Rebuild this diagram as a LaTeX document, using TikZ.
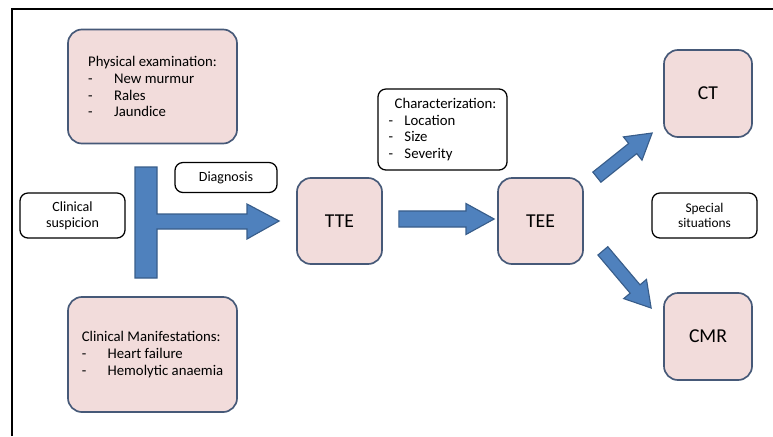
\documentclass[tikz,border=0pt]{standalone}
\usepackage{fontspec}
\setmainfont{Carlito}
\usetikzlibrary{calc}
\definecolor{boxpink}{RGB}{242,220,219}
\definecolor{boxedge}{RGB}{70,89,120}
\definecolor{arrowblue}{RGB}{79,129,189}
\definecolor{arrowedge}{RGB}{56,93,138}
\newcommand\itm[1][18.4pt]{\makebox[#1][l]{-}}
% block arrow: tail, tip, shaft half width, head half width, head length
\newcommand\fatarrow[5]{%
  \coordinate (hb) at ($(#2)!#5!(#1)$);
  \draw[arrowshape] ($(#1)!#3!90:(#2)$) -- ($(hb)!#3!-90:(#1)$) -- ($(hb)!#4!-90:(#1)$) -- (#2)
    -- ($(hb)!#4!90:(#1)$) -- ($(hb)!#3!90:(#1)$) -- ($(#1)!#3!-90:(#2)$) -- cycle;}
\begin{document}
\begin{tikzpicture}[x=0.025cm,y=-0.025cm,
  pinkbox/.style={draw=boxedge,fill=boxpink,line width=1.2pt,rounded corners=0.35cm,inner sep=0pt},
  whitebox/.style={draw=black,fill=white,line width=0.9pt,rounded corners=0.2cm,inner sep=0pt,align=center},
  arrowshape/.style={fill=arrowblue,draw=arrowedge,line width=0.8pt,line join=miter}]
\useasboundingbox (0,0) rectangle (773,436);
\draw[line width=1.4pt] (12,436)--(12,9)--(773,9);
% left column
\node[pinkbox,minimum width=4.225cm,minimum height=2.85cm,align=left,font=\fontsize{10.5}{12}\selectfont] (phys) at (152.5,86.5)
  {Physical examination:\\\itm New murmur\\\itm Rales\\\itm Jaundice};
\node[pinkbox,minimum width=4.225cm,minimum height=2.875cm,align=left,font=\fontsize{10.5}{12}\selectfont] (manif) at (152.5,354.5)
  {Clinical Manifestations:\\\itm Heart failure\\\itm Hemolytic anaemia};
\node[whitebox,minimum width=2.625cm,minimum height=1.125cm,font=\fontsize{10}{11.5}\selectfont] (susp) at (72.5,215.5) {Clinical\\suspicion};
\node[whitebox,minimum width=2.55cm,minimum height=0.75cm,font=\fontsize{10}{12}\selectfont] (diag) at (226,177.5) {Diagnosis};
% imaging
\node[pinkbox,minimum width=2.125cm,minimum height=2.15cm,font=\fontsize{14}{16}\selectfont] (tte) at (339.5,221) {TTE};
\node[pinkbox,minimum width=2.125cm,minimum height=2.15cm,font=\fontsize{14}{16}\selectfont] (tee) at (540.5,221) {TEE};
\node[whitebox,minimum width=3.225cm,minimum height=2.025cm,align=left,font=\fontsize{10.5}{12}\selectfont] (charact) at (442.5,129.5)
  {\hspace*{4.3pt}Characterization:\\\itm[11.3pt]Location\\\itm[11.3pt]Size\\\itm[11.3pt]Severity};
\node[pinkbox,minimum width=2.2cm,minimum height=2.175cm,font=\fontsize{14}{16}\selectfont] (ct) at (708,93.5) {CT};
\node[pinkbox,minimum width=2.2cm,minimum height=2.175cm,font=\fontsize{14}{16}\selectfont] (cmr) at (708,336.5) {CMR};
\node[whitebox,minimum width=2.625cm,minimum height=1.125cm,font=\fontsize{9.5}{11.2}\selectfont] (spec) at (704.5,215.5) {Special\\situations};
% arrows
\coordinate (ttip) at ($(tte.west)+(-17,0)$);
\draw[arrowshape] (135,167)--(157,167)--(157,214)--(247,214)--(247,204)--(ttip)--(247,239)--(247,229)--(157,229)--(157,278)--(135,278)--cycle;
\coordinate (a1) at ($(tte.east)+(16,-2)$);
\coordinate (a2) at ($(tee.west)+(-3,-2)$);
\fatarrow{a1}{a2}{5.7pt}{11pt}{20pt}
\coordinate (b1) at ($(tee.north east)+(13,0)$);
\coordinate (b2) at ($(ct.west)+(-11,39.5)$);
\fatarrow{b1}{b2}{4.6pt}{10.6pt}{17.7pt}
\coordinate (c1) at ($(tee.south east)+(19,-14)$);
\coordinate (c2) at ($(cmr.west)+(-12,-28.5)$);
\fatarrow{c1}{c2}{4.6pt}{10.6pt}{17.7pt}
\end{tikzpicture}
\end{document}
